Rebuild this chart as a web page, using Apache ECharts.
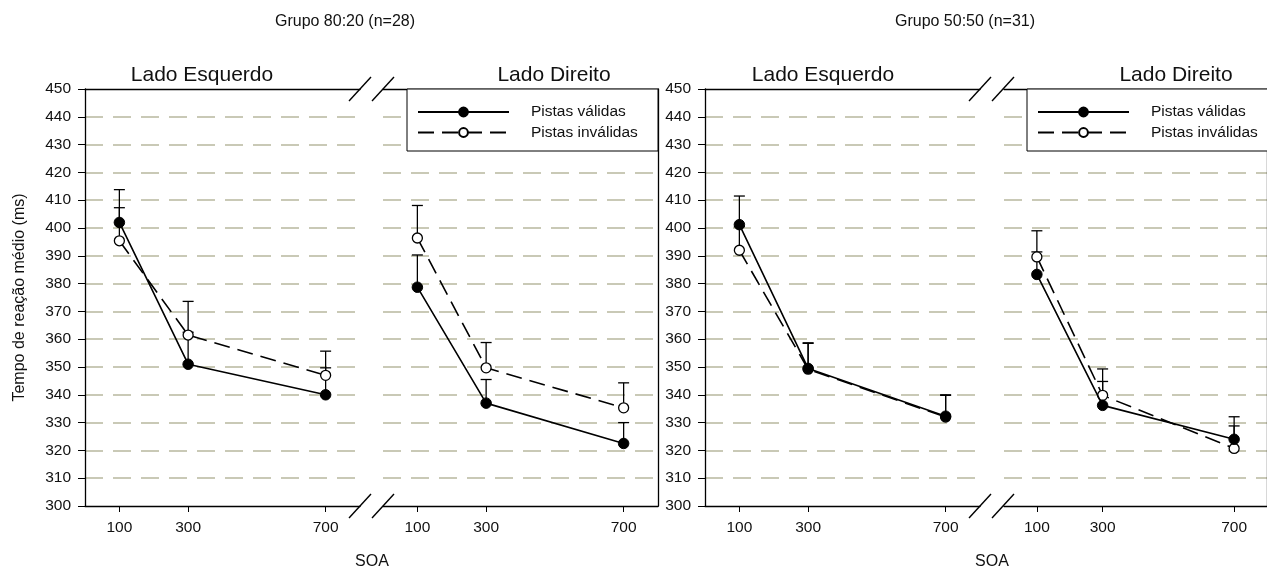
<!DOCTYPE html>
<html>
<head>
<meta charset="utf-8">
<script src="https://cdn.jsdelivr.net/npm/echarts@6/dist/echarts.min.js"></script>
<style>
html,body{margin:0;padding:0;background:#fff;}
#chart{width:1267px;height:571px;}
</style>
</head>
<body>
<div id="chart"></div>
<script>
// ---- data ----
const soa = [100, 300, 700];
const yTicks = [300, 310, 320, 330, 340, 350, 360, 370, 380, 390, 400, 410, 420, 430, 440, 450];
const groupTitles = ['Grupo 80:20 (n=28)', 'Grupo 50:50 (n=31)'];
const sideTitles = ['Lado Esquerdo', 'Lado Direito'];
const seriesNames = ['Pistas válidas', 'Pistas inválidas'];
const yTitle = 'Tempo de reação médio (ms)';
const xTitle = 'SOA';

// Grupo 80:20 – Lado Esquerdo
const g1LeftValid = [402, 351, 340];
const g1LeftValidTop = [413.8, 362.5, 349.7];
const g1LeftInvalid = [395.4, 361.5, 347];
const g1LeftInvalidTop = [407.3, 373.6, 355.7];
// Grupo 80:20 – Lado Direito
const g1RightValid = [378.7, 337, 322.5];
const g1RightValidTop = [390.3, 345.5, 330];
const g1RightInvalid = [396.4, 349.7, 335.3];
const g1RightInvalidTop = [408.1, 358.8, 344.3];
// Grupo 50:50 – Lado Esquerdo
const g2LeftValid = [401.2, 349.5, 332.3];
const g2LeftValidTop = [411.5, 358.5, 339.8];
const g2LeftInvalid = [392, 349.2, 332];
const g2LeftInvalidTop = [400.5, 358.7, 340];
// Grupo 50:50 – Lado Direito
const g2RightValid = [383.3, 336.2, 324];
const g2RightValidTop = [391.4, 344.8, 332.1];
const g2RightInvalid = [389.6, 339.8, 320.7];
const g2RightInvalidTop = [399, 349.3, 328.8];

const panels = [
  {valid: g1LeftValid, validTop: g1LeftValidTop, invalid: g1LeftInvalid, invalidTop: g1LeftInvalidTop},
  {valid: g1RightValid, validTop: g1RightValidTop, invalid: g1RightInvalid, invalidTop: g1RightInvalidTop},
  {valid: g2LeftValid, validTop: g2LeftValidTop, invalid: g2LeftInvalid, invalidTop: g2LeftInvalidTop},
  {valid: g2RightValid, validTop: g2RightValidTop, invalid: g2RightInvalid, invalidTop: g2RightInvalidTop}
];

// ---- layout ----
const FONT = 'Liberation Sans, Arial, Helvetica, sans-serif';
const TOP = 89, BOTTOM_Y = 506, H = BOTTOM_Y - TOP, W = 275;
const gridLefts = [85, 383, 705, 1004];

const grids = gridLefts.map(l => ({left: l, top: TOP, width: W, height: H, containLabel: false}));

const xAxes = [];
const yAxes = [];
gridLefts.forEach((l, g) => {
  xAxes.push({
    type: 'value', gridIndex: g, min: 0, max: 800, position: 'bottom',
    axisLine: {show: true, onZero: false, lineStyle: {color: '#000', width: 1.3}},
    axisTick: {show: true, customValues: soa, length: 6, inside: false, lineStyle: {color: '#000', width: 1}},
    axisLabel: {show: true, customValues: soa, margin: 14, color: '#111', fontSize: 15.5, fontFamily: FONT},
    splitLine: {show: false}
  });
  xAxes.push({
    type: 'value', gridIndex: g, min: 0, max: 800, position: 'top',
    axisLine: {show: true, onZero: false, lineStyle: {color: '#000', width: 1.3}},
    axisTick: {show: false}, axisLabel: {show: false}, splitLine: {show: false}
  });
});
gridLefts.forEach((l, g) => {
  const isLeft = (g % 2 === 0);
  yAxes.push({
    type: 'value', gridIndex: g, min: 300, max: 450, interval: 10, position: 'left',
    name: isLeft && g === 0 ? yTitle : '',
    nameLocation: 'middle', nameGap: 57, nameRotate: 90,
    nameTextStyle: {fontSize: 16, color: '#111', fontFamily: FONT},
    axisLine: {show: isLeft, onZero: false, lineStyle: {color: '#000', width: 1.3}},
    axisTick: {show: isLeft, length: 7, lineStyle: {color: '#000', width: 1}},
    axisLabel: {show: isLeft, margin: 14, color: '#111', fontSize: 15.5, fontFamily: FONT},
    splitLine: {show: true, showMinLine: false, showMaxLine: false,
      lineStyle: {color: '#c9c9b6', width: 2, type: [18, 10]}}
  });
});
// right frame lines for right-hand panels
[1, 3].forEach(g => {
  yAxes.push({
    type: 'value', gridIndex: g, min: 300, max: 450, position: 'right',
    axisLine: {show: true, onZero: false, lineStyle: {color: '#000', width: 1.3}},
    axisTick: {show: false}, axisLabel: {show: false}, splitLine: {show: false}
  });
});

function errorSeries(g, vals, tops) {
  return {
    type: 'custom', xAxisIndex: 2 * g, yAxisIndex: g, z: 1, silent: true,
    data: soa.map((x, i) => [x, tops[i], vals[i]]),
    encode: {x: 0, y: [1, 2]},
    renderItem: function (params, api) {
      const p0 = api.coord([api.value(0), api.value(2)]);
      const p1 = api.coord([api.value(0), api.value(1)]);
      const hw = 5.5;
      return {
        type: 'group',
        children: [
          {type: 'line', shape: {x1: p0[0], y1: p0[1], x2: p1[0], y2: p1[1]}, style: {stroke: '#000', lineWidth: 1.3}},
          {type: 'line', shape: {x1: p1[0] - hw, y1: p1[1], x2: p1[0] + hw, y2: p1[1]}, style: {stroke: '#000', lineWidth: 1.3}}
        ]
      };
    }
  };
}

const series = [];
panels.forEach((p, g) => {
  series.push(errorSeries(g, p.valid, p.validTop));
  series.push(errorSeries(g, p.invalid, p.invalidTop));
  series.push({
    name: seriesNames[1], type: 'line', xAxisIndex: 2 * g, yAxisIndex: g, z: 3,
    data: soa.map((x, i) => [x, p.invalid[i]]),
    symbol: 'circle', symbolSize: 10, showSymbol: true,
    lineStyle: {color: '#000', width: 1.6, type: [16, 8]},
    itemStyle: {color: '#fff', borderColor: '#000', borderWidth: 1.3},
    emphasis: {disabled: true}, animation: false
  });
  series.push({
    name: seriesNames[0], type: 'line', xAxisIndex: 2 * g, yAxisIndex: g, z: 4,
    data: soa.map((x, i) => [x, p.valid[i]]),
    symbol: 'circle', symbolSize: 10.5, showSymbol: true,
    lineStyle: {color: '#000', width: 1.6, type: 'solid'},
    itemStyle: {color: '#000', borderColor: '#000', borderWidth: 1},
    emphasis: {disabled: true}, animation: false
  });
});

function legendAt(boxLeft) {
  return {
    orient: 'vertical', left: boxLeft + 10, top: 104, padding: 0, z: 20,
    data: seriesNames, itemWidth: 91, itemHeight: 11, itemGap: 4.5,
    selectedMode: false,
    textStyle: {fontSize: 15.5, color: '#111', fontFamily: FONT, padding: [0, 0, 0, 17], lineHeight: 14}
  };
}

// break marks
const graphics = [];
function slash(x1, y1, x2, y2) {
  graphics.push({type: 'line', shape: {x1, y1, x2, y2}, style: {stroke: '#000', lineWidth: 1.4}, z: 10});
}
[349, 969].forEach(x0 => {
  [TOP, BOTTOM_Y].forEach(yc => {
    slash(x0, yc + 12, x0 + 22, yc - 12);
    slash(x0 + 23, yc + 12, x0 + 45, yc - 12);
  });
});
// legend boxes
[[407, 658], [1027, 1290]].forEach(([a, b]) => {
  graphics.push({type: 'rect', shape: {x: a, y: TOP, width: b - a, height: 62}, style: {fill: '#fff', stroke: '#000', lineWidth: 1}, z: 5});
});
function text(str, x, y, size, extra) {
  graphics.push(Object.assign({type: 'text', x, y, z: 10,
    style: {text: str, fontSize: size, fontFamily: FONT, fill: '#111', textAlign: 'center', textVerticalAlign: 'middle'}}, extra || {}));
}
text(groupTitles[0], 345, 22, 16);
text(groupTitles[1], 965, 22, 16);
text(sideTitles[0], 202, 75, 21);
text(sideTitles[1], 554, 75, 21);
text(sideTitles[0], 823, 75, 21);
text(sideTitles[1], 1176, 75, 21);
text(xTitle, 372, 562, 16);
text(xTitle, 992, 562, 16);

const chart = echarts.init(document.getElementById('chart'), null, {renderer: 'canvas'});
chart.setOption({
  animation: false,
  backgroundColor: '#fff',
  grid: grids,
  xAxis: xAxes,
  yAxis: yAxes,
  legend: [legendAt(407), legendAt(1027)],
  graphic: {elements: graphics},
  series: series
});
</script>
</body>
</html>
